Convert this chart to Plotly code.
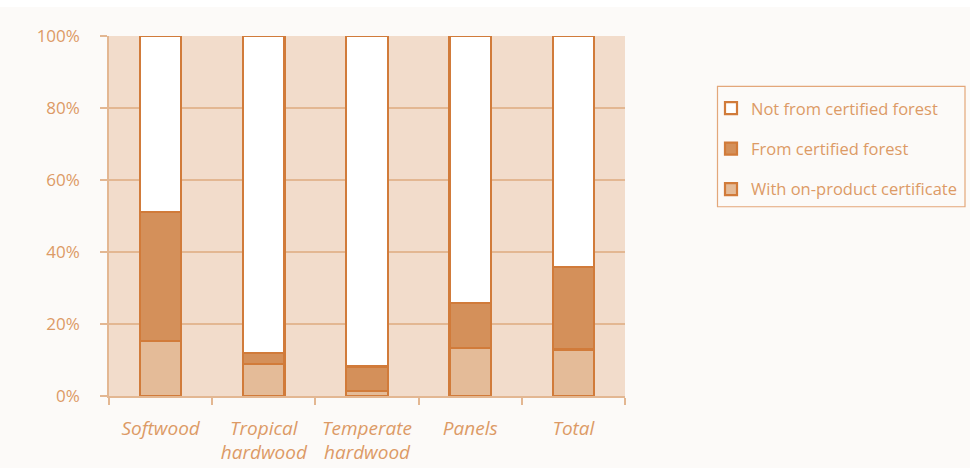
import plotly.graph_objects as go

# Share of timber products by certification status (%)
categories = ["Softwood", "Tropical<br>hardwood", "Temperate<br>hardwood", "Panels", "Total"]
on_product = [15.2, 9.0, 1.5, 13.4, 12.9]
certified_forest = [36.0, 3.0, 6.7, 12.5, 22.9]
not_certified = [48.8, 88.0, 91.8, 74.1, 64.2]
y_ticks = [0, 20, 40, 60, 80, 100]
y_tick_labels = ["0%", "20%", "40%", "60%", "80%", "100%"]

OUTLINE = "#d17b3a"
TEXT = "#dc9a66"
GRID = "#e3b792"
FONT = "'Open Sans', Lato, sans-serif"

# (name, values, fill, legend rank) — stacked bottom to top
series = [
    ("With on-product certificate", on_product, "#e4bb98", 3),
    ("From certified forest", certified_forest, "#d4905a", 2),
    ("Not from certified forest", not_certified, "#ffffff", 1),
]

fig = go.Figure()
for i, (name, vals, color, rank) in enumerate(series):
    fig.add_trace(go.Bar(
        name=name,
        x=categories,
        y=vals,
        width=0.4,
        legendgroup=f"g{i}",
        legendrank=rank,
        marker=dict(color=color, line=dict(color=OUTLINE, width=2.2)),
    ))

# plot area spans x 109..625 px, y 36..396.5 px
def px_x(p):
    return (p - 109) / 516

def px_y(p):
    return (396.5 - p) / 360.5

fig.update_layout(
    barmode="stack",
    width=970,
    height=468,
    margin=dict(l=109, r=345, t=36, b=71.5, autoexpand=False),
    paper_bgcolor="#fcfaf8",
    plot_bgcolor="#f2dccb",
    font=dict(family=FONT, color=TEXT, size=16),
    showlegend=True,
    legend=dict(
        x=px_x(711), y=px_y(91), xanchor="left", yanchor="top",
        traceorder="grouped",
        tracegroupgap=16,
        bgcolor="rgba(0,0,0,0)",
        borderwidth=0,
        font=dict(size=16.5, color=TEXT, family=FONT),
        itemwidth=30,
    ),
    shapes=[
        dict(type="rect", xref="paper", yref="paper", x0=-0.3, x1=1.7,
             y0=px_y(7), y1=1.2, fillcolor="#ffffff", line=dict(width=0),
             layer="below"),
        dict(type="rect", xref="paper", yref="paper",
             x0=px_x(717.5), x1=px_x(965), y0=px_y(86.5), y1=px_y(207),
             fillcolor="rgba(0,0,0,0)", line=dict(color="#e3a77a", width=1.2)),
    ],
)

fig.update_xaxes(
    automargin=False,
    showgrid=False,
    showline=True, linecolor=GRID, linewidth=1.5,
    ticks="outside", tickson="boundaries", ticklen=7, tickcolor=GRID, tickwidth=1.5,
    tickfont=dict(size=19, color=TEXT, style="italic", family=FONT),
    ticklabelstandoff=14,
)
fig.update_yaxes(
    automargin=False,
    range=[0, 100],
    tickvals=y_ticks, ticktext=y_tick_labels,
    showgrid=True, gridcolor=GRID, gridwidth=1.5,
    showline=True, linecolor=GRID, linewidth=1.5,
    ticks="outside", ticklen=7, tickcolor=GRID, tickwidth=1.5,
    tickfont=dict(size=17, color=TEXT, family=FONT),
    ticklabelstandoff=17,
    zeroline=False,
)

fig.write_html("out.html")
